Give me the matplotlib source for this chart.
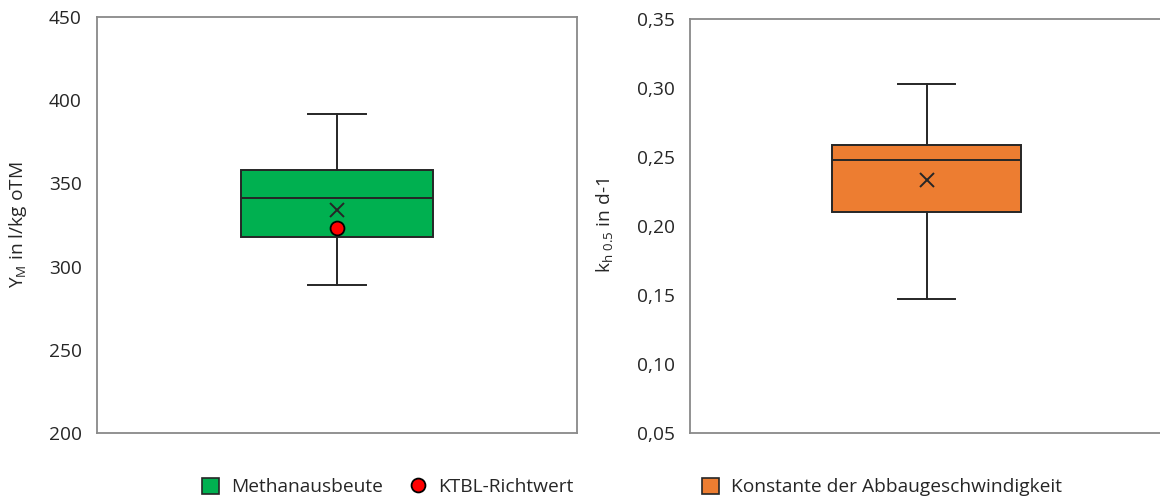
import matplotlib
matplotlib.use("Agg")
import matplotlib.pyplot as plt
from matplotlib.patches import Patch
from matplotlib.lines import Line2D

plt.rcParams['font.family'] = ['Open Sans', 'DejaVu Sans']
plt.rcParams['mathtext.fontset'] = 'custom'
plt.rcParams['mathtext.rm'] = 'Open Sans'
plt.rcParams['mathtext.it'] = 'Open Sans'

# ---- data ----
methan_label = "Methanausbeute"
methan_stats = {"whislo": 289, "q1": 318, "med": 341, "q3": 358, "whishi": 392, "mean": 334}
ktbl_label = "KTBL-Richtwert"
ktbl_value = [323]
methan_ticks = [200, 250, 300, 350, 400, 450]
methan_ticklabels = ["200", "250", "300", "350", "400", "450"]

k_label = "Konstante der Abbaugeschwindigkeit"
k_stats = {"whislo": 0.147, "q1": 0.210, "med": 0.248, "q3": 0.259, "whishi": 0.303, "mean": 0.233}
k_ticks = [0.05, 0.10, 0.15, 0.20, 0.25, 0.30, 0.35]
k_ticklabels = ["0,05", "0,10", "0,15", "0,20", "0,25", "0,30", "0,35"]

GREEN = "#00B050"
ORANGE = "#ED7D31"
LINE = "#262626"
TEXT = "#262626"
FRAME = "#898989"
FS = 13.8

fig = plt.figure(figsize=(11.6, 5.0), dpi=100)
ax1 = fig.add_axes([97/1160, 67/500, 480/1160, 416/500])
ax2 = fig.add_axes([690/1160, 67/500, 473/1160, 414/500])


def draw(ax, stats, color, ticks, ticklabels, ylim):
    ax.bxp([dict(stats)], positions=[1], widths=0.8, patch_artist=True,
           showmeans=True, showfliers=False, capwidths=0.24,
           boxprops=dict(facecolor=color, edgecolor=LINE, linewidth=1.4),
           medianprops=dict(color=LINE, linewidth=1.4),
           whiskerprops=dict(color=LINE, linewidth=1.4),
           capprops=dict(color=LINE, linewidth=1.4),
           meanprops=dict(marker='x', markeredgecolor=LINE, markerfacecolor='none',
                          markersize=10, markeredgewidth=1.4))
    ax.set_xlim(0, 2)
    ax.set_ylim(*ylim)
    ax.set_xticks([])
    ax.set_yticks(ticks)
    ax.set_yticklabels(ticklabels)
    ax.tick_params(axis='y', length=0, pad=11, labelsize=FS, labelcolor=TEXT)
    for s in ax.spines.values():
        s.set_color(FRAME)
        s.set_linewidth(1.3)


draw(ax1, methan_stats, GREEN, methan_ticks, methan_ticklabels, (200, 450))
draw(ax2, k_stats, ORANGE, k_ticks, k_ticklabels, (0.05, 0.35))

ax1.plot([1], ktbl_value, 'o', markerfacecolor='#FF0000', markeredgecolor='black',
         markersize=10, markeredgewidth=1.3, zorder=5)

ax1.set_ylabel(r"Y$_{\mathrm{M}}$ in l/kg oTM", fontsize=FS, color=TEXT)
ax2.set_ylabel(r"k$_{\mathrm{h\ 0.5}}$ in d-1", fontsize=FS, color=TEXT)
ax1.yaxis.set_label_coords(-0.142, 0.5)
ax2.yaxis.set_label_coords(-0.158, 0.5)

h1 = [Patch(facecolor=GREEN, edgecolor=LINE, linewidth=1.2, label=methan_label),
      Line2D([], [], marker='o', linestyle='none', markerfacecolor='#FF0000',
             markeredgecolor='black', markersize=10, markeredgewidth=1.3, label=ktbl_label)]
leg1 = fig.legend(handles=h1, loc='center', bbox_to_anchor=(388/1160, 1 - 487/500),
                  ncol=2, frameon=False, fontsize=FS, handlelength=0.9, handleheight=0.9,
                  handletextpad=0.6, columnspacing=1.4, labelcolor=TEXT)
h2 = [Patch(facecolor=ORANGE, edgecolor=LINE, linewidth=1.2, label=k_label)]
leg2 = fig.legend(handles=h2, loc='center', bbox_to_anchor=(882/1160, 1 - 487/500),
                  frameon=False, fontsize=FS, handlelength=0.9, handleheight=0.9,
                  handletextpad=0.6, labelcolor=TEXT)

fig.savefig("out.png", dpi=100)
